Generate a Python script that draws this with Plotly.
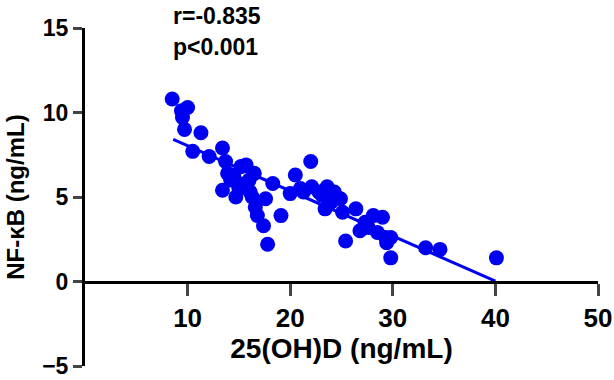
import plotly.graph_objects as go

# 25(OH)D (ng/mL) vs NF-kB (ng/mL)
vit_d = [8.5, 10.0, 9.4, 9.5, 9.7, 11.3, 10.5, 12.1, 13.4, 13.7, 15.7, 13.9, 15.2,
         16.5, 18.3, 20.5, 13.4, 14.7, 16.1, 17.6, 16.6, 16.8, 19.1, 17.4, 17.8,
         22.0, 21.3, 22.1, 23.6, 23.1, 24.9, 23.4, 26.4, 25.1, 28.1, 27.3, 28.5,
         25.4, 29.4, 21.0, 29.0, 29.3, 29.8, 29.8, 33.2, 34.6, 40.1,
         14.2, 15.0, 14.5, 15.5, 16.0, 16.3, 15.0, 24.3, 24.0, 22.8, 20.0, 26.8, 27.6]
nfkb = [10.8, 10.3, 10.1, 9.7, 9.0, 8.8, 7.7, 7.4, 7.9, 7.1, 6.9, 6.4, 6.8,
        6.4, 5.8, 6.3, 5.4, 5.0, 5.3, 4.9, 4.4, 3.9, 3.9, 3.3, 2.2,
        7.1, 5.3, 5.6, 5.6, 5.1, 4.9, 4.3, 4.3, 4.1, 3.9, 3.5, 2.9,
        2.4, 2.3, 5.5, 3.8, 2.6, 2.6, 1.4, 2.0, 1.9, 1.4,
        6.0, 5.8, 6.3, 5.6, 6.0, 5.0, 5.5, 5.3, 4.7, 5.3, 5.2, 3.0, 3.2]

# regression line
fit_slope = -0.267
fit_intercept = 10.7
fit_x = [8.6, 40.0]
fit_y = [fit_intercept + fit_slope * v for v in fit_x]

x_ticks = [10, 20, 30, 40, 50]
y_ticks = [-5, 0, 5, 10, 15]

BLUE = "#0000F0"
FONT = "Arial, Liberation Sans, sans-serif"

fig = go.Figure()
fig.add_trace(go.Scatter(x=fit_x, y=fit_y, mode="lines",
                         line=dict(color=BLUE, width=3), showlegend=False,
                         hoverinfo="skip"))
fig.add_trace(go.Scatter(x=vit_d, y=nfkb, mode="markers",
                         marker=dict(color=BLUE, size=15, line=dict(width=0)),
                         showlegend=False))

fig.update_layout(
    width=614, height=380,
    margin=dict(l=85, r=16, t=28, b=14, autoexpand=False),
    plot_bgcolor="white", paper_bgcolor="white",
    font=dict(family=FONT, color="black", size=26, weight="bold"),
    xaxis=dict(range=[0, 50], tickvals=x_ticks, ticks="outside", ticklen=12,
               tickwidth=3, showline=True, linewidth=3, linecolor="black",
               showgrid=False, zeroline=False, anchor="free", position=0.25,
               automargin=False,
               tickfont=dict(size=26, weight="bold"),
               title=dict(text="25(OH)D (ng/mL)", font=dict(size=28, weight="bold"),
                          standoff=0)),
    yaxis=dict(range=[-5, 15], tickvals=y_ticks, ticks="outside", ticklen=9,
               tickwidth=3, showline=True, linewidth=3, linecolor="black",
               showgrid=False, zeroline=False, domain=[0, 1], automargin=False,
               ticklabeloverflow="allow",
               tickfont=dict(size=23, weight="bold")),
    annotations=[
        dict(text="NF-κB (ng/mL)", x=-0.137, y=0.5, xref="paper", yref="paper",
             xanchor="center", yanchor="middle", textangle=-90, showarrow=False,
             font=dict(size=24, weight="bold")),
        dict(text="r=-0.835", x=8.4, y=1.035, xref="x", yref="paper",
             xanchor="left", yanchor="middle", showarrow=False,
             font=dict(size=23, weight="bold")),
        dict(text="p&lt;0.001", x=8.4, y=0.945, xref="x", yref="paper",
             xanchor="left", yanchor="middle", showarrow=False,
             font=dict(size=23, weight="bold")),
    ],
)

fig.write_html("out.html", config={"displayModeBar": False},
               post_script="document.body.style.margin='0px';")
